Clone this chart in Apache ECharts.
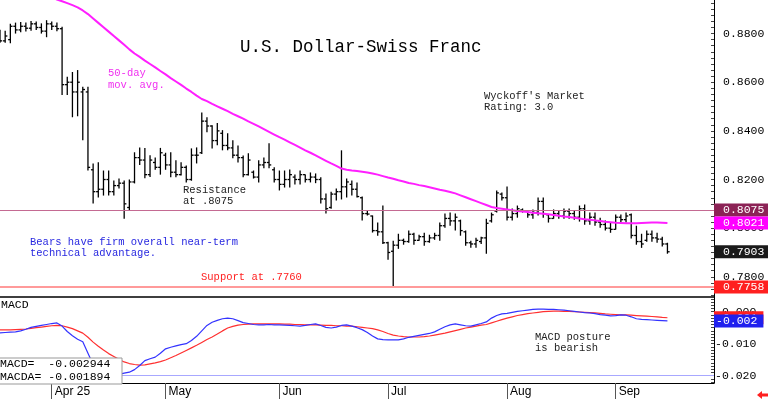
<!DOCTYPE html>
<html>
<head>
<meta charset="utf-8">
<script src="https://cdn.jsdelivr.net/npm/echarts@6/dist/echarts.min.js"></script>
<style>
html, body { margin: 0; padding: 0; background: #fff; }
#main { width: 768px; height: 399px; }
</style>
</head>
<body>
<div id="main"></div>
<script>
// daily bars, one per weekday from Mar 18
var opens = [0.8790,0.8770,0.8775,0.8830,0.8815,0.8830,0.8822,0.8840,0.8825,0.8810,
  0.8840,0.8830,0.8820,0.8590,0.8600,0.8560,0.8560,0.8560,0.8240,0.8150,
  0.8160,0.8200,0.8150,0.8175,0.8185,0.8085,0.8190,0.8290,0.8280,0.8220,
  0.8270,0.8250,0.8300,0.8260,0.8230,0.8220,0.8250,0.8200,0.8300,0.8310,
  0.8440,0.8420,0.8360,0.8390,0.8340,0.8330,0.8300,0.8290,0.8220,0.8230,
  0.8210,0.8260,0.8270,0.8240,0.8200,0.8180,0.8200,0.8210,0.8200,0.8220,
  0.8200,0.8210,0.8200,0.8120,0.8085,0.8140,0.8150,0.8170,0.8180,0.8160,
  0.8125,0.8060,0.8050,0.7990,0.7985,0.7940,0.7905,0.7930,0.7950,0.7945,
  0.7975,0.7950,0.7965,0.7945,0.7960,0.7970,0.8010,0.8040,0.8030,0.8030,
  0.7985,0.7940,0.7935,0.7945,0.7960,0.8030,0.8070,0.8140,0.8125,0.8045,
  0.8060,0.8075,0.8070,0.8055,0.8065,0.8110,0.8055,0.8040,0.8060,0.8050,
  0.8070,0.8060,0.8045,0.8080,0.8030,0.8045,0.8025,0.8015,0.8000,0.7995,
  0.8045,0.8035,0.8055,0.7970,0.7945,0.7950,0.7975,0.7960,0.7955,0.7935];
var highs = [0.8816,0.8812,0.8840,0.8845,0.8848,0.8845,0.8852,0.8850,0.8842,0.8855,
  0.8850,0.8845,0.8828,0.8622,0.8642,0.8650,0.8581,0.8581,0.8266,0.8271,
  0.8237,0.8237,0.8196,0.8204,0.8196,0.8200,0.8312,0.8332,0.8330,0.8300,
  0.8290,0.8330,0.8310,0.8312,0.8279,0.8271,0.8258,0.8328,0.8332,0.8476,
  0.8456,0.8423,0.8432,0.8403,0.8390,0.8361,0.8340,0.8299,0.8308,0.8237,
  0.8279,0.8291,0.8349,0.8250,0.8237,0.8237,0.8241,0.8221,0.8237,0.8221,
  0.8229,0.8225,0.8209,0.8142,0.8150,0.8163,0.8320,0.8204,0.8196,0.8188,
  0.8130,0.8072,0.8052,0.8023,0.8093,0.7944,0.7948,0.7977,0.7957,0.7990,
  0.7981,0.7973,0.7981,0.7973,0.7981,0.8023,0.8060,0.8064,0.8060,0.8035,
  0.7990,0.7948,0.7961,0.7965,0.8039,0.8064,0.8155,0.8147,0.8171,0.8081,
  0.8093,0.8081,0.8072,0.8077,0.8126,0.8126,0.8056,0.8077,0.8072,0.8081,
  0.8081,0.8072,0.8093,0.8097,0.8064,0.8064,0.8043,0.8031,0.8023,0.8056,
  0.8056,0.8064,0.8060,0.8010,0.7977,0.7990,0.7990,0.7981,0.7965,0.7940];
var lows = [0.8762,0.8762,0.8760,0.8800,0.8805,0.8808,0.8812,0.8815,0.8800,0.8785,
  0.8815,0.8810,0.8547,0.8547,0.8456,0.8460,0.8361,0.8237,0.8101,0.8126,
  0.8134,0.8134,0.8134,0.8163,0.8039,0.8072,0.8184,0.8260,0.8205,0.8210,
  0.8240,0.8220,0.8240,0.8209,0.8209,0.8217,0.8188,0.8195,0.8266,0.8305,
  0.8394,0.8328,0.8341,0.8320,0.8320,0.8287,0.8270,0.8209,0.8217,0.8204,
  0.8188,0.8246,0.8246,0.8188,0.8155,0.8167,0.8167,0.8180,0.8180,0.8188,
  0.8188,0.8185,0.8101,0.8060,0.8080,0.8114,0.8118,0.8126,0.8134,0.8126,
  0.8031,0.8052,0.7982,0.7969,0.7935,0.7870,0.7760,0.7915,0.7932,0.7940,
  0.7932,0.7948,0.7928,0.7940,0.7952,0.7948,0.8002,0.8010,0.7990,0.7969,
  0.7928,0.7919,0.7919,0.7935,0.7895,0.8023,0.8064,0.8114,0.8031,0.8031,
  0.8043,0.8064,0.8043,0.8039,0.8052,0.8043,0.8023,0.8039,0.8039,0.8039,
  0.8039,0.8035,0.8027,0.8014,0.8014,0.8010,0.8002,0.7990,0.7981,0.7994,
  0.8023,0.8023,0.7957,0.7932,0.7919,0.7944,0.7944,0.7940,0.7925,0.7895];
var closes = [0.8770,0.8790,0.8830,0.8815,0.8830,0.8822,0.8840,0.8825,0.8810,0.8840,
  0.8830,0.8820,0.8590,0.8600,0.8560,0.8600,0.8570,0.8250,0.8150,0.8160,
  0.8200,0.8150,0.8175,0.8185,0.8100,0.8190,0.8290,0.8280,0.8220,0.8280,
  0.8250,0.8310,0.8260,0.8230,0.8220,0.8250,0.8200,0.8300,0.8300,0.8440,
  0.8420,0.8360,0.8400,0.8340,0.8330,0.8300,0.8290,0.8220,0.8280,0.8210,
  0.8260,0.8270,0.8260,0.8200,0.8180,0.8200,0.8220,0.8200,0.8220,0.8200,
  0.8210,0.8200,0.8120,0.8080,0.8140,0.8150,0.8170,0.8190,0.8160,0.8130,
  0.8060,0.8058,0.7990,0.7985,0.7940,0.7900,0.7930,0.7950,0.7945,0.7975,
  0.7950,0.7965,0.7945,0.7960,0.7970,0.8010,0.8040,0.8030,0.8045,0.7990,
  0.7940,0.7935,0.7950,0.7960,0.8020,0.8055,0.8145,0.8125,0.8045,0.8060,
  0.8080,0.8070,0.8055,0.8065,0.8110,0.8060,0.8040,0.8060,0.8050,0.8070,
  0.8060,0.8045,0.8080,0.8030,0.8045,0.8025,0.8015,0.8000,0.7995,0.8045,
  0.8035,0.8050,0.7970,0.7945,0.7935,0.7975,0.7960,0.7955,0.7935,0.7903];

// 50-day moving average, starts at bar 10
var maStart = 10;
var maValues = [0.8950,0.8940,0.8933,0.8925,0.8917,0.8908,0.8895,0.8880,0.8862,0.8844,
  0.8826,0.8808,0.8790,0.8772,0.8754,0.8735,0.8718,0.8704,0.8689,0.8675,
  0.8661,0.8646,0.8632,0.8617,0.8603,0.8589,0.8574,0.8560,0.8545,0.8531,
  0.8522,0.8511,0.8501,0.8491,0.8481,0.8470,0.8460,0.8450,0.8439,0.8429,
  0.8418,0.8407,0.8396,0.8385,0.8374,0.8364,0.8353,0.8342,0.8331,0.8320,
  0.8310,0.8299,0.8288,0.8277,0.8266,0.8256,0.8245,0.8240,0.8237,0.8235,
  0.8232,0.8229,0.8225,0.8220,0.8214,0.8208,0.8203,0.8197,0.8192,0.8186,
  0.8182,0.8177,0.8173,0.8168,0.8163,0.8158,0.8154,0.8149,0.8143,0.8135,
  0.8127,0.8119,0.8111,0.8103,0.8095,0.8087,0.8083,0.8080,0.8077,0.8074,
  0.8071,0.8068,0.8066,0.8063,0.8061,0.8059,0.8057,0.8054,0.8051,0.8048,
  0.8046,0.8043,0.8040,0.8037,0.8035,0.8032,0.8029,0.8026,0.8024,0.8022,
  0.8021,0.8020,0.8020,0.8020,0.8021,0.8022,0.8023,0.8023,0.8022,0.8021];

var macdValues = [-0.0066,-0.0065,-0.0064,-0.0063,-0.0060,-0.0055,-0.0049,-0.0046,-0.0043,-0.0040,
  -0.0037,-0.0035,-0.0045,-0.0062,-0.0075,-0.0086,-0.0094,-0.0130,-0.0165,-0.0182,
  -0.0190,-0.0195,-0.0197,-0.0196,-0.0192,-0.0189,-0.0181,-0.0168,-0.0153,-0.0147,
  -0.0142,-0.0130,-0.0116,-0.0111,-0.0107,-0.0103,-0.0100,-0.0090,-0.0077,-0.0060,
  -0.0043,-0.0033,-0.0027,-0.0022,-0.0020,-0.0022,-0.0028,-0.0034,-0.0037,-0.0040,
  -0.0041,-0.0041,-0.0040,-0.0041,-0.0041,-0.0042,-0.0043,-0.0044,-0.0045,-0.0043,
  -0.0040,-0.0038,-0.0043,-0.0049,-0.0051,-0.0048,-0.0043,-0.0041,-0.0045,-0.0050,
  -0.0056,-0.0065,-0.0076,-0.0085,-0.0087,-0.0088,-0.0088,-0.0088,-0.0085,-0.0080,
  -0.0077,-0.0074,-0.0071,-0.0068,-0.0063,-0.0055,-0.0047,-0.0041,-0.0038,-0.0041,
  -0.0044,-0.0045,-0.0041,-0.0037,-0.0032,-0.0020,-0.0012,-0.0007,-0.0005,-0.0002,
  0.0001,0.0003,0.0005,0.0007,0.0008,0.0008,0.0007,0.0007,0.0006,0.0005,
  0.0003,0.0001,-0.0001,-0.0003,-0.0004,-0.0006,-0.0009,-0.0011,-0.0013,-0.0012,
  -0.0010,-0.0011,-0.0016,-0.0022,-0.0024,-0.0025,-0.0026,-0.0027,-0.0028,-0.0029];
var macdaValues = [-0.0057,-0.0057,-0.0057,-0.0056,-0.0055,-0.0054,-0.0052,-0.0050,-0.0048,-0.0046,
  -0.0044,-0.0043,-0.0044,-0.0048,-0.0053,-0.0060,-0.0067,-0.0080,-0.0095,-0.0108,
  -0.0120,-0.0131,-0.0140,-0.0149,-0.0157,-0.0162,-0.0165,-0.0167,-0.0166,-0.0163,
  -0.0160,-0.0156,-0.0151,-0.0144,-0.0137,-0.0129,-0.0121,-0.0113,-0.0105,-0.0096,
  -0.0087,-0.0079,-0.0070,-0.0060,-0.0051,-0.0046,-0.0042,-0.0040,-0.0039,-0.0038,
  -0.0038,-0.0038,-0.0038,-0.0038,-0.0038,-0.0039,-0.0039,-0.0040,-0.0040,-0.0041,
  -0.0041,-0.0041,-0.0042,-0.0043,-0.0043,-0.0044,-0.0044,-0.0045,-0.0045,-0.0047,
  -0.0049,-0.0051,-0.0053,-0.0057,-0.0062,-0.0068,-0.0073,-0.0076,-0.0078,-0.0079,
  -0.0079,-0.0079,-0.0078,-0.0076,-0.0073,-0.0070,-0.0067,-0.0063,-0.0059,-0.0055,
  -0.0051,-0.0048,-0.0045,-0.0042,-0.0040,-0.0035,-0.0030,-0.0025,-0.0020,-0.0016,
  -0.0012,-0.0009,-0.0006,-0.0004,-0.0002,0.0000,0.0001,0.0002,0.0002,0.0001,
  0.0001,0.0000,-0.0001,-0.0002,-0.0003,-0.0004,-0.0005,-0.0007,-0.0008,-0.0009,
  -0.0010,-0.0010,-0.0011,-0.0012,-0.0013,-0.0014,-0.0015,-0.0016,-0.0018,-0.0019];

var monthStarts = [10, 32, 54, 75, 98, 119];
var monthNames = ['Apr 25', 'May', 'Jun', 'Jul', 'Aug', 'Sep'];
var priceTicks = [0.78, 0.80, 0.82, 0.84, 0.86, 0.88];
var macdTicks = [0, -0.01, -0.02];
var resistance = 0.8075;
var support = 0.7758;
var slots = 139;

var mono = '"Liberation Mono", "DejaVu Sans Mono", monospace';
var sans = '"Liberation Sans", Arial, sans-serif';

var cats = [];
for (var i = 0; i < slots; i++) cats.push('d' + i);

var priceMinor = [];
for (var t = 0; t < 50; t++) priceMinor.push(0.7725 + t * 0.0025);
var macdMinor = [];
for (var t = 0; t < 27; t++) macdMinor.push(0.004 - t * 0.001);

var bars = opens.map(function (o, i) { return [i, o, highs[i], lows[i], closes[i]]; });
var maData = maValues.map(function (v, k) { return [k + maStart, v]; });
var macdData = macdValues.map(function (v, i) { return [i, v]; });
var macdaData = macdaValues.map(function (v, i) { return [i, v]; });

function renderBar(params, api) {
    var i = api.value(0);
    var pO = api.coord([i, api.value(1)]);
    var pH = api.coord([i, api.value(2)]);
    var pL = api.coord([i, api.value(3)]);
    var pC = api.coord([i, api.value(4)]);
    var st = { stroke: '#000', lineWidth: 1.3 };
    return {
        type: 'group',
        children: [
            { type: 'line', shape: { x1: pH[0], y1: pH[1], x2: pL[0], y2: pL[1] }, style: st },
            { type: 'line', shape: { x1: pO[0] - 2.2, y1: pO[1], x2: pO[0], y2: pO[1] }, style: st },
            { type: 'line', shape: { x1: pC[0], y1: pC[1], x2: pC[0] + 2.2, y2: pC[1] }, style: st }
        ]
    };
}

function isMonth(idx) { return monthStarts.indexOf(idx) >= 0; }

function valueTag(val, text, bg, pad) {
    return {
        yAxis: val,
        lineStyle: { color: 'rgba(0,0,0,0)', width: 1 },
        label: {
            show: true, position: 'end', distance: 0, formatter: text,
            color: '#fff', backgroundColor: bg, padding: pad,
            fontFamily: mono, fontSize: 11.5
        }
    };
}

function cut3(v) { return (Math.trunc(v * 1000) / 1000).toFixed(3); }

var lastClose = closes[closes.length - 1];
var lastMa = maValues[maValues.length - 1];
var lastMacd = macdValues[macdValues.length - 1];
var lastMacda = macdaValues[macdaValues.length - 1];

var myChart = echarts.init(document.getElementById('main'));
var option = {
    backgroundColor: '#fff',
    animation: false,
    grid: [
        { left: 0, right: 54, top: 0, height: 297 },
        { left: 0, right: 54, top: 297, height: 86 }
    ],
    xAxis: [
        {
            gridIndex: 0, type: 'category', data: cats, boundaryGap: false,
            axisLine: { show: true, onZero: false, lineStyle: { color: '#000', width: 1.5 } },
            axisTick: { show: false }, axisLabel: { show: false }, splitLine: { show: false }
        },
        {
            gridIndex: 1, type: 'category', data: cats, boundaryGap: false,
            axisLine: { show: true, onZero: false, lineStyle: { color: '#000', width: 1 } },
            axisTick: {
                show: true, length: 16, lineStyle: { color: '#555' },
                interval: function (idx) { return isMonth(idx); }
            },
            axisLabel: {
                interval: function (idx) { return isMonth(idx); },
                formatter: function (val, idx) { return monthNames[monthStarts.indexOf(idx)] || ''; },
                align: 'left', margin: 3, padding: [0, 0, 0, 3],
                fontFamily: sans, fontSize: 12, color: '#000'
            },
            splitLine: { show: false }
        }
    ],
    yAxis: [
        {
            gridIndex: 0, type: 'value', position: 'right', min: 0.7717, max: 0.8938,
            axisLine: { show: true, lineStyle: { color: '#000' } },
            axisTick: { show: true, inside: true, length: 3, customValues: priceMinor, lineStyle: { color: '#444' } },
            axisLabel: {
                customValues: priceTicks, margin: 9, color: '#000',
                fontFamily: mono, fontSize: 11.5,
                formatter: function (v) { return v.toFixed(4); }
            },
            splitLine: { show: false }
        },
        {
            gridIndex: 1, type: 'value', position: 'right', min: -0.02228, max: 0.00459,
            axisLine: { show: true, lineStyle: { color: '#000' } },
            axisTick: { show: true, inside: true, length: 3, customValues: macdMinor, lineStyle: { color: '#444' } },
            axisLabel: {
                customValues: macdTicks, margin: 1, color: '#000',
                fontFamily: mono, fontSize: 11.5,
                formatter: function (v) { return (v >= 0 ? ' ' + Math.abs(v).toFixed(3) : v.toFixed(3)); }
            },
            splitLine: { show: false }
        }
    ],
    series: [
        {
            name: 'USD/CHF', type: 'custom', xAxisIndex: 0, yAxisIndex: 0,
            renderItem: renderBar, encode: { x: 0, y: [1, 2, 3, 4] },
            data: bars, z: 3
        },
        {
            name: '50-day', type: 'line', xAxisIndex: 0, yAxisIndex: 0,
            data: maData, showSymbol: false, symbol: 'none',
            lineStyle: { color: '#ff1fff', width: 2 }, z: 4,
            markLine: {
                silent: true, symbol: ['none', 'none'], animation: false, precision: 6,
                data: [
                    {
                        yAxis: resistance, lineStyle: { color: '#c46a92', width: 1, type: 'solid' },
                        label: {
                            show: true, position: 'end', distance: 0, formatter: resistance.toFixed(4),
                            color: '#fff', backgroundColor: '#8c2356', padding: [1, 5, 0, 9],
                            fontFamily: mono, fontSize: 11.5
                        }
                    },
                    {
                        yAxis: support, lineStyle: { color: '#ff9a9a', width: 2, type: 'solid' },
                        label: {
                            show: true, position: 'end', distance: 0, formatter: support.toFixed(4),
                            color: '#fff', backgroundColor: '#ff2020', padding: [1, 5, 0, 9],
                            fontFamily: mono, fontSize: 11.5
                        }
                    },
                    valueTag(lastMa, lastMa.toFixed(4), '#ff00ff', [1, 5, 0, 9]),
                    valueTag(lastClose, lastClose.toFixed(4), '#1a1a1a', [1, 5, 0, 9])
                ]
            }
        },
        {
            name: 'MACDA', type: 'line', xAxisIndex: 1, yAxisIndex: 1,
            data: macdaData, showSymbol: false, symbol: 'none',
            lineStyle: { color: '#ff3030', width: 1.2 }, z: 3,
            markLine: {
                silent: true, symbol: ['none', 'none'], animation: false, precision: 6,
                data: [valueTag(lastMacda, cut3(lastMacda), '#ff2020', [1, 6, 0, 2])]
            }
        },
        {
            name: 'MACD', type: 'line', xAxisIndex: 1, yAxisIndex: 1,
            data: macdData, showSymbol: false, symbol: 'none',
            lineStyle: { color: '#3333ff', width: 1.2 }, z: 4,
            markLine: {
                silent: true, symbol: ['none', 'none'], animation: false, precision: 6,
                data: [
                    { yAxis: -0.02, lineStyle: { color: '#a8a8ff', width: 1, type: 'solid' }, label: { show: false } },
                    valueTag(lastMacd, cut3(lastMacd), '#2020ee', [1, 6, 0, 2])
                ]
            }
        }
    ],
    graphic: [
        { type: 'text', x: 240, y: 47, z: 50, style: { text: 'U.S. Dollar-Swiss Franc', font: '17.5px ' + mono, fill: '#000', verticalAlign: 'middle' } },
        { type: 'text', x: 108, y: 67, z: 50, style: { text: '50-day\nmov. avg.', font: '10.5px ' + mono, fill: '#f030f0', lineHeight: 12, verticalAlign: 'top' } },
        { type: 'text', x: 484, y: 90, z: 50, style: { text: "Wyckoff's Market\nRating: 3.0", font: '10.5px ' + mono, fill: '#222', lineHeight: 11.5, verticalAlign: 'top' } },
        { type: 'text', x: 183, y: 184.5, z: 50, style: { text: 'Resistance\nat .8075', font: '10.5px ' + mono, fill: '#222', lineHeight: 11, verticalAlign: 'top' } },
        { type: 'text', x: 30, y: 236.5, z: 50, style: { text: 'Bears have firm overall near-term\ntechnical advantage.', font: '10.5px ' + mono, fill: '#2828e0', lineHeight: 11, verticalAlign: 'top' } },
        { type: 'text', x: 201, y: 271, z: 50, style: { text: 'Support at .7760', font: '10.5px ' + mono, fill: '#ff2020', lineHeight: 12, verticalAlign: 'top' } },
        { type: 'text', x: 1, y: 299, z: 50, style: { text: 'MACD', font: '11.5px ' + mono, fill: '#000', lineHeight: 12, verticalAlign: 'top' } },
        { type: 'text', x: 535, y: 331.5, z: 50, style: { text: 'MACD posture\nis bearish', font: '10.5px ' + mono, fill: '#222', lineHeight: 11, verticalAlign: 'top' } },
        { type: 'rect', z: 50, shape: { x: -1, y: 358, width: 123, height: 26 }, style: { fill: '#fff', stroke: '#999', lineWidth: 1 } },
        { type: 'text', x: 0, y: 357.5, z: 51, style: { text: 'MACD=  -0.002944\nMACDA= -0.001894', font: '11.5px ' + mono, fill: '#000', lineHeight: 13, verticalAlign: 'top' } },
        { type: 'polygon', z: 50, shape: { points: [[757, 395], [762, 391], [762, 393.5], [768, 393.5], [768, 396.5], [762, 396.5], [762, 399]] }, style: { fill: '#ff2020' } }
    ]
};
myChart.setOption(option);
</script>
</body>
</html>
